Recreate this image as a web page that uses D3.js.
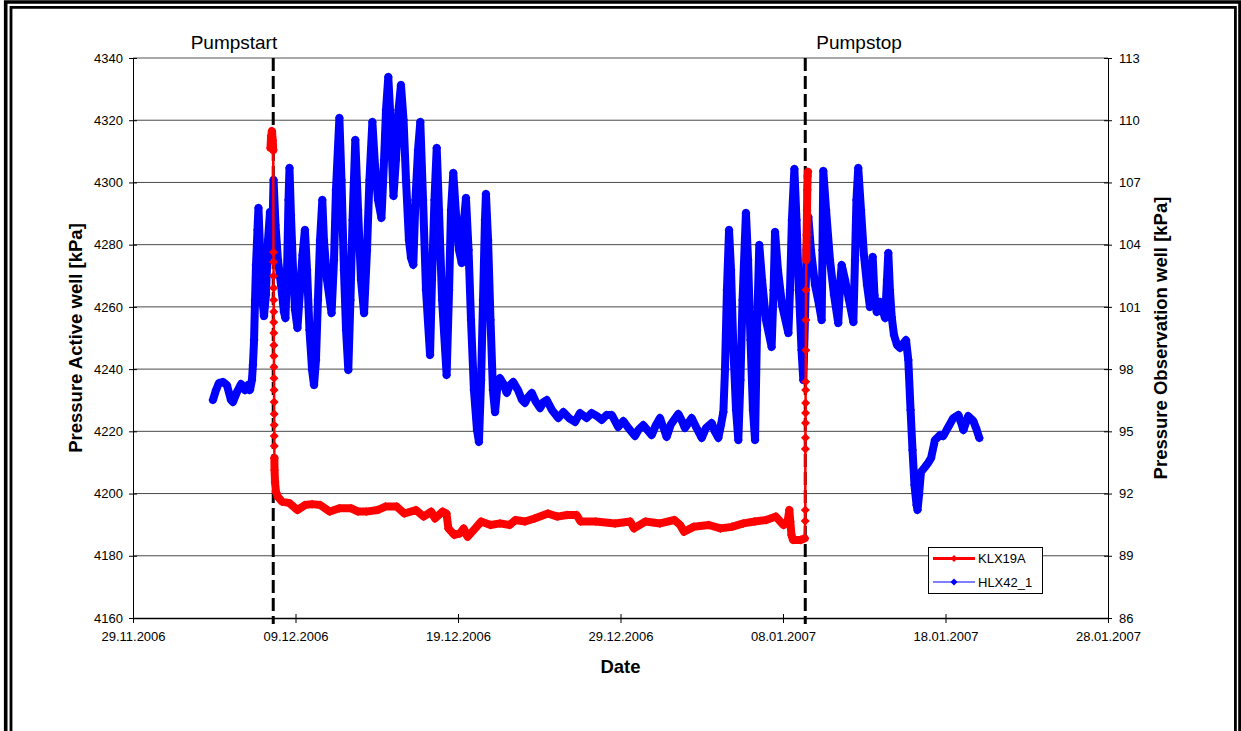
<!DOCTYPE html>
<html>
<head>
<meta charset="utf-8">
<script src="https://cdn.jsdelivr.net/npm/d3@7"></script>
<style>
  body{ margin:0; background:#fff; }
  svg text{ font-family:"Liberation Sans", Arial, sans-serif; }
</style>
</head>
<body>
<div id="chart"></div>
<script>
// Tick labels of the three axes.
const dateTicks = [ '29.11.2006', '09.12.2006', '19.12.2006', '29.12.2006', '08.01.2007', '18.01.2007', '28.01.2007' ];
const leftTicks = [ 4160, 4180, 4200, 4220, 4240, 4260, 4280, 4300, 4320, 4340 ];
const rightTicks = [ 86, 89, 92, 95, 98, 101, 104, 107, 110, 113 ];

// Pump events, in days counted from 29.11.2006 00:00.
const pumpLabels = [ 'Pumpstart', 'Pumpstop' ];
const pumpDays = [ 8.63, 41.37 ];

const seriesNames = [ 'KLX19A', 'HLX42_1' ];

// HLX42_1 (observation well, right axis) - days from 29.11.2006 and kPa.
const hlxDay = [
  4.92,5.11,5.29,5.54,5.78,6.03,6.15,6.40,6.65,6.89,7.08,7.20,7.32,7.38,7.45,7.51,7.57,7.66,7.72,7.82,
  7.91,8.06,8.18,8.31,8.43,8.52,8.58,8.65,8.77,8.92,9.11,9.29,9.38,9.48,9.57,9.63,9.72,9.85,9.97,10.12,
  10.28,10.43,10.58,10.71,10.86,11.02,11.14,11.26,11.38,11.51,11.65,11.75,11.94,12.22,12.37,12.49,12.70,12.83,12.98,13.11,
  13.25,13.38,13.51,13.68,13.85,14.03,14.22,14.40,14.55,14.73,14.89,15.08,15.29,15.45,15.57,15.71,15.85,16.03,16.18,16.34,
  16.49,16.65,16.80,16.98,17.11,17.25,17.38,17.54,17.68,17.85,18.03,18.28,18.40,18.55,18.69,18.83,19.02,19.30,19.45,19.57,
  19.71,19.88,20.06,20.23,20.37,20.49,20.65,20.80,20.98,21.17,21.29,21.42,21.54,21.66,21.72,21.85,22.00,22.15,22.28,22.43,
  22.58,22.77,23.00,23.20,23.40,23.69,23.94,24.12,24.31,24.54,24.80,25.05,25.26,25.46,25.78,26.17,26.48,26.83,27.20,27.51,
  27.92,28.22,28.54,28.84,29.14,29.46,29.86,30.17,30.49,30.89,31.14,31.40,31.66,31.92,32.18,32.43,32.65,32.84,33.11,33.56,
  33.75,33.97,34.38,34.68,35.00,35.26,35.61,35.82,36.02,36.18,36.33,36.43,36.55,36.68,36.80,36.95,37.11,37.25,37.38,37.51,
  37.72,37.85,38.00,38.15,38.28,38.40,38.54,38.71,38.95,39.30,39.42,39.51,39.69,39.94,40.33,40.43,40.55,40.70,40.83,40.98,
  41.14,41.25,41.35,41.45,41.56,41.72,41.97,42.22,42.38,42.43,42.48,42.65,42.89,43.14,43.40,43.51,43.61,43.82,44.06,44.33,
  44.43,44.52,44.63,44.80,44.98,45.17,45.35,45.52,45.63,45.77,45.97,46.28,46.40,46.48,46.58,46.69,46.83,47.02,47.20,47.38,
  47.57,47.71,47.85,47.97,48.09,48.22,48.28,48.37,48.49,48.74,48.92,49.11,49.35,49.66,49.86,50.17,50.48,50.79,50.95,51.10,
  51.40,51.71,51.88,52.08
];
const hlxValue = [
  96.51,96.99,97.33,97.38,97.23,96.51,96.41,96.90,97.28,96.99,97.23,96.99,97.47,98.20,99.40,101.33,103.02,104.71,105.77,103.74,
  101.81,100.56,101.57,104.22,105.57,103.50,104.71,107.12,104.95,103.26,102.06,100.75,100.46,102.78,106.15,107.70,105.43,102.78,100.85,99.98,
  101.81,103.50,104.71,102.78,99.89,97.96,97.23,98.44,101.33,104.22,106.15,104.22,102.30,100.70,103.26,106.64,110.11,107.12,102.78,99.89,
  97.96,101.33,105.19,109.05,105.67,102.30,100.70,103.74,107.12,109.91,107.84,106.15,105.29,108.08,110.49,112.08,110.01,106.35,108.08,110.49,
  111.70,110.01,107.12,104.22,103.36,103.02,106.15,108.56,109.91,106.15,101.81,98.68,102.30,106.15,108.66,105.67,101.33,97.72,101.81,105.67,
  107.46,105.43,103.74,103.12,105.19,106.25,103.74,100.37,96.99,95.06,94.49,97.47,101.33,105.19,106.44,104.22,100.37,96.99,95.93,97.23,
  97.57,97.33,96.85,97.23,97.38,96.99,96.51,96.37,96.65,96.85,96.41,96.12,96.41,96.51,96.03,95.64,95.93,95.64,95.45,95.88,
  95.64,95.88,95.74,95.55,95.79,95.79,95.21,95.50,95.16,94.77,95.11,95.30,95.06,94.82,95.30,95.64,95.16,94.73,95.35,95.84,
  95.55,95.16,95.64,95.16,94.68,95.16,95.40,94.97,94.68,95.30,95.93,97.96,101.81,104.71,102.78,98.92,96.03,94.58,97.47,101.33,
  105.53,103.26,99.40,96.03,94.58,99.89,103.98,102.30,100.37,99.07,101.81,104.61,102.78,101.09,99.74,101.81,105.19,107.65,105.19,101.81,
  98.92,97.47,100.37,103.74,105.33,103.74,102.06,101.09,100.37,103.74,107.55,105.67,103.26,101.57,100.22,102.06,103.02,102.30,101.33,100.27,
  103.26,106.15,107.70,105.67,103.50,102.06,100.99,103.41,101.57,100.75,101.24,100.46,102.30,103.60,101.81,100.51,99.64,99.16,99.02,99.21,
  99.40,98.44,96.03,94.10,92.41,91.45,91.21,91.93,93.04,93.28,93.47,93.71,94.58,94.82,94.77,95.21,95.64,95.79,95.45,95.06,
  95.74,95.50,95.16,94.68
];

// KLX19A (active well, left axis), split in phases.
const klxStaticDay = [ 8.46, 8.50, 8.55, 8.60, 8.63 ];
const klxStaticValue = [ 4311.1, 4314.9, 4316.5, 4313.6, 4310.4 ];

const klxDrawdownDay = [ 8.645, 8.648, 8.651, 8.654, 8.657, 8.660, 8.663, 8.666, 8.669, 8.672, 8.675, 8.678, 8.681, 8.684, 8.687, 8.690, 8.693, 8.696 ];
const klxDrawdownValue = [ 4277.6, 4274.4, 4269.9, 4266.1, 4262.2, 4258.4, 4255.1, 4251.6, 4247.7, 4244.2, 4240.7, 4237.1, 4233.3, 4229.4, 4225.6, 4222.0, 4218.5, 4215.3 ];

const klxPumpingDay = [
  8.70,8.71,8.74,8.80,8.92,9.17,9.64,10.11,10.58,11.02,11.52,12.11,12.70,13.41,13.85,14.35,15.05,15.53,16.23,16.70,
  17.41,17.88,18.35,18.58,19.06,19.29,19.41,19.77,20.12,20.35,20.59,21.06,21.42,22.00,22.59,23.18,23.53,24.12,24.71,25.53,
  26.12,26.71,27.30,27.54,28.48,29.66,30.60,30.83,31.54,32.43,33.32,33.67,33.91,34.50,35.44,36.15,36.85,37.56,38.26,38.97,
  39.56,40.03,40.28,40.39,40.45,40.52,40.62,41.09,41.34
];
const klxPumpingValue = [
  4211.4,4207.6,4203.7,4200.5,4198.9,4197.4,4196.9,4194.7,4196.3,4196.6,4196.3,4194.2,4195.3,4195.3,4194.2,4194.2,4194.7,4195.8,4195.8,4193.6,
  4194.7,4192.6,4194.2,4192.0,4194.2,4193.6,4188.8,4186.7,4187.2,4188.8,4186.1,4188.8,4191.0,4189.9,4190.4,4189.9,4191.5,4191.0,4192.0,4193.6,
  4192.6,4193.1,4193.1,4191.0,4191.0,4190.4,4191.0,4188.8,4191.0,4190.4,4191.5,4189.9,4187.7,4189.3,4189.9,4188.8,4189.3,4190.4,4191.0,4191.5,
  4192.6,4189.9,4190.9,4194.7,4190.9,4186.7,4185.1,4185.1,4185.6
];

const klxRecoveryDay = [ 41.366, 41.372, 41.376, 41.380, 41.385, 41.388, 41.391, 41.394, 41.397, 41.403, 41.409, 41.415 ];
const klxRecoveryValue = [ 4191.2, 4194.7, 4214.3, 4217.9, 4222.7, 4225.9, 4229.1, 4233.3, 4235.9, 4246.1, 4255.8, 4265.4 ];

const klxRecoveredDay = [ 41.434, 41.452, 41.477, 41.495, 41.514, 41.538 ];
const klxRecoveredValue = [ 4275.1, 4283.1, 4291.1, 4297.6, 4302.1, 4303.4 ];


const settings = {
  width: 1241,
  height: 731,
  plot: { left: 133, top: 58, right: 1108, bottom: 618 },
  band_width: 8,       // dense markers in the original form a solid band
  marker_r: 4.5,
  tick_font: 13,
  title_font: 18.5,
  red: '#ff0000',
  blue: '#0000ff'
};
const P = settings.plot;

const svg = d3.select( '#chart' )
  .append( 'svg' )
    .attr( 'width', settings.width )
    .attr( 'height', settings.height );

svg.append( 'rect' )
  .attr( 'width', settings.width )
  .attr( 'height', settings.height )
  .attr( 'fill', '#fff' );

// Scales.
const parseDate = d3.utcParse( '%d.%m.%Y' );
const t0 = parseDate( dateTicks[0] );
const toDate = d => new Date( t0.getTime() + d * 864e5 );

const x = d3.scaleUtc()
  .domain( [ t0, parseDate( dateTicks[ dateTicks.length - 1 ] ) ] )
  .range( [ P.left, P.right ] );
const yLeft = d3.scaleLinear()
  .domain( [ leftTicks[0], leftTicks[ leftTicks.length - 1 ] ] )
  .range( [ P.bottom, P.top ] );
const yRight = d3.scaleLinear()
  .domain( [ rightTicks[0], rightTicks[ rightTicks.length - 1 ] ] )
  .range( [ P.bottom, P.top ] );

// Horizontal gridlines (top one is lighter, like the plot border).
svg.append( 'g' )
  .selectAll( 'line' )
  .data( leftTicks.slice( 1 ) )
  .join( 'line' )
    .attr( 'x1', P.left )
    .attr( 'x2', P.right )
    .attr( 'y1', d => yLeft( d ) )
    .attr( 'y2', d => yLeft( d ) )
    .attr( 'stroke', ( d, i ) => i == leftTicks.length - 2 ? '#8c8c8c' : '#4a4a4a' )
    .attr( 'stroke-width', ( d, i ) => i == leftTicks.length - 2 ? 1.6 : 1 );

// Axes.
function style_axis( g ){
  g.attr( 'font-family', null )
    .attr( 'font-size', settings.tick_font );
  g.selectAll( 'text' ).attr( 'fill', '#000' );
  g.selectAll( 'line' ).attr( 'stroke', '#000' );
  g.select( '.domain' ).attr( 'stroke', '#000' );
}

const gx = svg.append( 'g' )
  .attr( 'transform', 'translate(0,' + P.bottom + ')' )
  .call( d3.axisBottom( x )
    .tickValues( dateTicks.map( parseDate ) )
    .tickFormat( d3.utcFormat( '%d.%m.%Y' ) )
    .tickSize( 5 )
    .tickSizeOuter( 0 )
    .tickPadding( 9 ) );
style_axis( gx );
gx.selectAll( '.tick line' ).attr( 'y1', -4 );
gx.select( '.domain' ).attr( 'stroke-width', 1.6 );

const gl = svg.append( 'g' )
  .attr( 'transform', 'translate(' + P.left + ',0)' )
  .call( d3.axisLeft( yLeft )
    .tickValues( leftTicks )
    .tickFormat( d3.format( 'd' ) )
    .tickSize( 4 )
    .tickSizeOuter( 0 )
    .tickPadding( 6 ) );
style_axis( gl );
gl.selectAll( '.tick line' ).attr( 'x1', 4 );

const gr = svg.append( 'g' )
  .attr( 'transform', 'translate(' + P.right + ',0)' )
  .call( d3.axisRight( yRight )
    .tickValues( rightTicks )
    .tickFormat( d3.format( 'd' ) )
    .tickSize( 4 )
    .tickSizeOuter( 0 )
    .tickPadding( 7 ) );
style_axis( gr );
gr.selectAll( '.tick line' ).attr( 'x1', -4 );

// Axis titles.
svg.append( 'text' )
  .attr( 'x', ( P.left + P.right ) / 2 )
  .attr( 'y', 673 )
  .attr( 'text-anchor', 'middle' )
  .attr( 'font-weight', 'bold' )
  .attr( 'font-size', settings.title_font )
  .text( 'Date' );

svg.append( 'text' )
  .attr( 'transform', 'translate(81.5,' + ( P.top + P.bottom ) / 2 + ') rotate(-90)' )
  .attr( 'text-anchor', 'middle' )
  .attr( 'font-weight', 'bold' )
  .attr( 'font-size', settings.title_font )
  .text( 'Pressure Active well [kPa]' );

svg.append( 'text' )
  .attr( 'transform', 'translate(1167,' + ( P.top + P.bottom ) / 2 + ') rotate(-90)' )
  .attr( 'text-anchor', 'middle' )
  .attr( 'font-weight', 'bold' )
  .attr( 'font-size', settings.title_font )
  .text( 'Pressure Observation well [kPa]' );

// Pump start / stop markers.
svg.append( 'g' )
  .selectAll( 'line' )
  .data( pumpDays )
  .join( 'line' )
    .attr( 'x1', d => x( toDate( d ) ) )
    .attr( 'x2', d => x( toDate( d ) ) )
    .attr( 'y1', P.top )
    .attr( 'y2', P.bottom + 6 )
    .attr( 'stroke', '#000' )
    .attr( 'stroke-width', 3 )
    .attr( 'stroke-dasharray', '13,5' );

svg.append( 'g' )
  .selectAll( 'text' )
  .data( pumpDays )
  .join( 'text' )
    .attr( 'x', ( d, i ) => x( toDate( d ) ) + ( i == 0 ? 4 : 11 ) )
    .attr( 'y', 49 )
    .attr( 'text-anchor', ( d, i ) => i == 0 ? 'end' : 'start' )
    .attr( 'font-size', 19 )
    .text( ( d, i ) => pumpLabels[i] );

// Series helpers.
function points( days, values, scale ){
  return days.map( ( d, i ) => ( { px: x( toDate( d ) ), py: scale( values[i] ) } ) );
}
const line = d3.line().x( d => d.px ).y( d => d.py );
const diamond = r => 'M0,' + ( -r ) + 'L' + r + ',0L0,' + r + 'L' + ( -r ) + ',0Z';

function draw_band( g, pts, color ){
  g.append( 'path' )
    .attr( 'd', line( pts ) )
    .attr( 'fill', 'none' )
    .attr( 'stroke', color )
    .attr( 'stroke-width', settings.band_width )
    .attr( 'stroke-linejoin', 'round' )
    .attr( 'stroke-linecap', 'round' );
}
function draw_markers( g, pts, color ){
  g.selectAll( null )
    .data( pts )
    .join( 'path' )
      .attr( 'transform', d => 'translate(' + d.px + ',' + d.py + ')' )
      .attr( 'd', diamond( settings.marker_r ) )
      .attr( 'fill', color );
}

// HLX42_1 in blue.
const hlxPts = points( hlxDay, hlxValue, yRight );
const gBlue = svg.append( 'g' );
draw_band( gBlue, hlxPts, settings.blue );
gBlue.append( 'path' )
  .attr( 'd', line( hlxPts ) )
  .attr( 'fill', 'none' )
  .attr( 'stroke', settings.blue )
  .attr( 'stroke-width', 1 );
draw_markers( gBlue, hlxPts, settings.blue );

// KLX19A in red.
const klxStatic = points( klxStaticDay, klxStaticValue, yLeft );
const klxDrawdown = points( klxDrawdownDay, klxDrawdownValue, yLeft );
const klxPumping = points( klxPumpingDay, klxPumpingValue, yLeft );
const klxRecovery = points( klxRecoveryDay, klxRecoveryValue, yLeft );
const klxRecovered = points( klxRecoveredDay, klxRecoveredValue, yLeft );
const klxAll = [].concat( klxStatic, klxDrawdown, klxPumping, klxRecovery, klxRecovered );

const gRed = svg.append( 'g' );
draw_band( gRed, klxStatic, settings.red );
draw_band( gRed, klxPumping, settings.red );
draw_band( gRed, klxRecovered, settings.red );
gRed.append( 'path' )
  .attr( 'd', line( klxAll ) )
  .attr( 'fill', 'none' )
  .attr( 'stroke', settings.red )
  .attr( 'stroke-width', 2.5 );
draw_markers( gRed, klxAll, settings.red );

// Legend.
const legend = svg.append( 'g' ).attr( 'transform', 'translate(928,547)' );
legend.append( 'rect' )
  .attr( 'x', 0.5 ).attr( 'y', 0.5 )
  .attr( 'width', 114 ).attr( 'height', 46 )
  .attr( 'fill', '#fff' )
  .attr( 'stroke', '#000' )
  .attr( 'stroke-width', 1 );
const legendColors = [ settings.red, settings.blue ];
const legendWidths = [ 3, 1 ];
seriesNames.forEach( ( name, i ) => {
  const ly = 11.5 + i * 23.5;
  legend.append( 'line' )
    .attr( 'x1', 5 ).attr( 'x2', 47 )
    .attr( 'y1', ly ).attr( 'y2', ly )
    .attr( 'stroke', legendColors[i] )
    .attr( 'stroke-width', legendWidths[i] );
  legend.append( 'path' )
    .attr( 'transform', 'translate(26,' + ly + ')' )
    .attr( 'd', diamond( 3.5 ) )
    .attr( 'fill', legendColors[i] );
  legend.append( 'text' )
    .attr( 'x', 50 )
    .attr( 'y', ly + 4.5 )
    .attr( 'font-size', settings.tick_font )
    .text( name );
} );

// Double frame around the whole chart.
const frame = svg.append( 'g' ).attr( 'stroke', '#000' ).attr( 'fill', 'none' );
frame.append( 'path' ).attr( 'd', 'M5.7,740V2H1240V740' ).attr( 'stroke-width', 3.6 );
frame.append( 'path' ).attr( 'd', 'M11,740V7.3H1235.4V740' ).attr( 'stroke-width', 2.8 );
</script>
</body>
</html>
